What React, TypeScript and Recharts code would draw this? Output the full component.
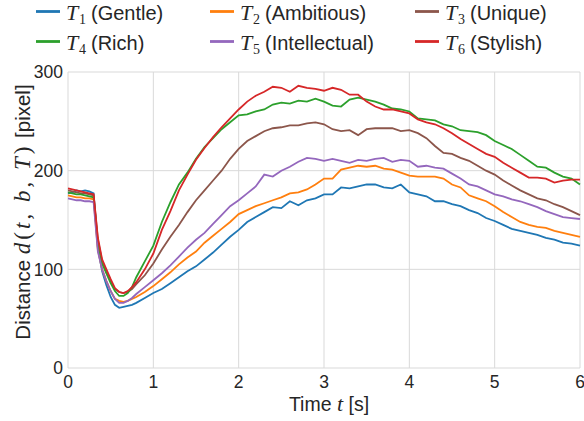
import React from 'react';
import { LineChart, Line, XAxis, YAxis, CartesianGrid } from 'recharts';

const times = [
  0, 0.05, 0.1, 0.15, 0.2, 0.25, 0.3, 0.35, 0.4, 0.45, 0.5, 0.55, 0.6, 0.65, 0.7, 0.75, 0.8,
  0.9, 1.0, 1.1, 1.2, 1.3, 1.4, 1.5, 1.6, 1.7, 1.8, 1.9, 2.0,
  2.1, 2.2, 2.3, 2.4, 2.5, 2.6, 2.7, 2.8, 2.9, 3.0,
  3.1, 3.2, 3.3, 3.4, 3.5, 3.6, 3.7, 3.8, 3.9, 4.0,
  4.1, 4.2, 4.3, 4.4, 4.5, 4.6, 4.7, 4.8, 4.9, 5.0,
  5.1, 5.2, 5.3, 5.4, 5.5, 5.6, 5.7, 5.8, 5.9, 6.0,
];

const t1Gentle = [
  177, 178, 180, 179, 180, 179, 177, 122, 98, 84, 72, 64, 61, 62, 63, 64, 66,
  71, 76, 80, 86, 92, 98, 103, 110, 117, 125, 133, 140,
  148, 153, 158, 163, 162, 169, 165, 170, 172, 176,
  176, 183, 182, 184, 186, 186, 183, 182, 186, 178,
  176, 174, 169, 169, 166, 164, 160, 157, 152, 149,
  145, 141, 139, 137, 135, 132, 130, 127, 126, 124,
];

const t2Ambitious = [
  175, 174, 173, 173, 172, 172, 171, 120, 100, 88, 78, 70, 68, 67, 68, 70, 72,
  77, 83, 90, 97, 105, 112, 118, 127, 134, 141, 148, 156,
  160, 164, 167, 170, 173, 177, 178, 181, 186, 192,
  192, 201, 203, 205, 204, 205, 202, 201, 198, 195,
  194, 194, 194, 192, 186, 183, 175, 172, 169, 164,
  158, 153, 148, 145, 143, 142, 139, 137, 135, 133,
];

const t3Unique = [
  180, 179, 178, 177, 177, 176, 175, 130, 108, 97, 88, 80, 77, 76, 77, 80, 85,
  94, 106, 120, 133, 145, 158, 170, 180, 190, 200, 212, 222,
  230, 235, 240, 243, 244, 246, 246, 248, 249, 247,
  242, 240, 241, 236, 242, 243, 243, 243, 240, 241,
  238, 233, 225, 218, 217, 213, 210, 205, 200, 196,
  190, 185, 180, 176, 172, 170, 166, 163, 159, 155,
];

const t4Rich = [
  178, 177, 176, 176, 175, 174, 173, 126, 106, 96, 86, 78, 73, 73, 76, 82, 92,
  108, 124, 148, 168, 186, 198, 212, 224, 233, 242, 249, 256,
  257, 260, 262, 267, 269, 268, 271, 270, 273, 270,
  266, 265, 272, 274, 272, 270, 267, 263, 262, 260,
  253, 252, 251, 247, 245, 241, 240, 239, 236, 230,
  226, 222, 216, 210, 204, 203, 198, 194, 192, 186,
];

const t5Intellectual = [
  172, 171, 170, 170, 169, 169, 168, 118, 100, 88, 78, 70, 66, 66, 68, 71, 75,
  82, 89, 96, 104, 113, 122, 130, 137, 146, 155, 164, 170,
  177, 184, 196, 194, 200, 204, 209, 213, 212, 210,
  212, 210, 208, 211, 210, 212, 213, 209, 211, 210,
  204, 205, 203, 202, 197, 192, 186, 184, 180, 176,
  174, 171, 169, 166, 163, 159, 156, 153, 152, 151,
];

const t6Stylish = [
  182, 181, 180, 179, 178, 177, 176, 132, 110, 100, 90, 81, 77, 76, 78, 82, 87,
  100, 116, 140, 159, 180, 196, 211, 223, 234, 244, 253, 262,
  270, 276, 280, 285, 284, 280, 286, 284, 283, 281,
  284, 282, 277, 277, 270, 265, 262, 262, 260, 258,
  252, 249, 247, 243, 238, 232, 227, 222, 217, 214,
  208, 203, 198, 193, 193, 192, 188, 190, 191, 191,
];

const xTicks = [0, 1, 2, 3, 4, 5, 6];
const yTicks = [0, 100, 200, 300];

const seriesKeys = ['T1', 'T2', 'T3', 'T4', 'T5', 'T6'];
const seriesSub = ['1', '2', '3', '4', '5', '6'];
const seriesNames = ['(Gentle)', '(Ambitious)', '(Unique)', '(Rich)', '(Intellectual)', '(Stylish)'];
const seriesColors = ['#1f77b4', '#ff7f0e', '#8c564b', '#2ca02c', '#9467bd', '#d62728'];
const seriesValues = [t1Gentle, t2Ambitious, t3Unique, t4Rich, t5Intellectual, t6Stylish];

const data = times.map((t, i) => {
  const row: Record<string, number> = { t };
  seriesKeys.forEach((k, j) => {
    row[k] = seriesValues[j][i];
  });
  return row;
});

const SANS = "'Liberation Sans', Arial, Helvetica, sans-serif";
const SERIF = "'Liberation Serif', 'DejaVu Serif', serif";
const TEXT = '#262626';

const renderXLabel = () => (
  <text x={329} y={411} textAnchor="middle" fill={TEXT} fontFamily={SANS} fontSize={19.5}>
    <tspan>Time </tspan>
    <tspan fontFamily={SERIF} fontStyle="italic" fontSize={22}>t</tspan>
    <tspan> [s]</tspan>
  </text>
);

const mathStyle = { letterSpacing: '3px' };

const renderYLabel = () => (
  <text
    x={29.5}
    y={212}
    transform="rotate(-90 29.5 212)"
    textAnchor="middle"
    fill={TEXT}
    fontFamily={SANS}
    fontSize={20.5}
  >
    <tspan>Distance </tspan>
    <tspan fontFamily={SERIF} fontSize={23} style={mathStyle}>
      <tspan fontStyle="italic">d</tspan>
      <tspan>(</tspan>
      <tspan fontStyle="italic">t</tspan>
      <tspan>, </tspan>
      <tspan fontStyle="italic">b</tspan>
      <tspan>, </tspan>
      <tspan fontStyle="italic">T</tspan>
      <tspan>)</tspan>
    </tspan>
    <tspan> [pixel]</tspan>
  </text>
);

const legendColX = [36, 210, 415];
const legendRowY = [11.5, 41.5];

const ChartLegend = () => (
  <svg width={584} height={60} style={{ position: 'absolute', left: 0, top: 0 }}>
    {seriesKeys.map((k, i) => {
      const col = i % 3;
      const row = Math.floor(i / 3);
      const x = legendColX[col];
      const y = legendRowY[row];
      return (
        <g key={k}>
          <line x1={x} x2={x + 24} y1={y} y2={y} stroke={seriesColors[i]} strokeWidth={2.8} />
          <text x={x + 30} y={y + 8} fill={TEXT} fontFamily={SERIF} fontStyle="italic" fontSize={22}>
            T
          </text>
          <text x={x + 43} y={y + 12} fill={TEXT} fontFamily={SERIF} fontSize={14}>
            {seriesSub[i]}
          </text>
          <text x={x + 55} y={y + 8} fill={TEXT} fontFamily={SANS} fontSize={20}>
            {seriesNames[i]}
          </text>
        </g>
      );
    })}
  </svg>
);

export default function App() {
  return (
    <div style={{ position: 'absolute', left: 0, top: 0, width: 584, height: 421, background: '#ffffff' }}>
      <LineChart width={584} height={421} data={data} margin={{ top: 72, right: 4, bottom: 23, left: 8 }}>
        <CartesianGrid stroke="#d9d9d9" strokeWidth={1} />
        <XAxis
          dataKey="t"
          type="number"
          domain={[0, 6]}
          ticks={xTicks}
          axisLine={false}
          tickLine={false}
          tickSize={0}
          tickMargin={8}
          height={30}
          interval={0}
          tick={{ fontSize: 17.5, fill: TEXT, fontFamily: SANS }}
          label={renderXLabel}
        />
        <YAxis
          type="number"
          domain={[0, 300]}
          ticks={yTicks}
          width={60}
          axisLine={false}
          tickLine={false}
          tickSize={0}
          tickMargin={5}
          interval={0}
          tick={{ fontSize: 17.5, fill: TEXT, fontFamily: SANS }}
          label={renderYLabel}
        />
        {seriesKeys.map((k, i) => (
          <Line
            key={k}
            dataKey={k}
            type="linear"
            stroke={seriesColors[i]}
            strokeWidth={1.8}
            dot={false}
            isAnimationActive={false}
          />
        ))}
      </LineChart>
      <ChartLegend />
    </div>
  );
}
